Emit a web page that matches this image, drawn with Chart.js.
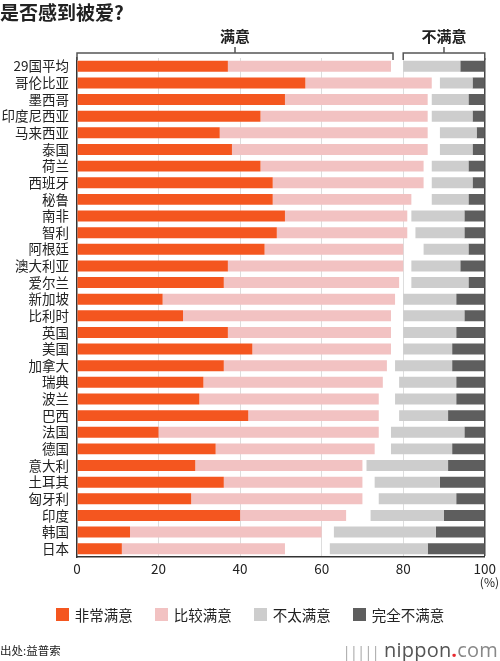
<!DOCTYPE html>
<html>
<head>
<meta charset="utf-8">
<script src="https://cdn.jsdelivr.net/npm/chart.js@4"></script>
<style>
  body { margin: 0; background: #fff; font-family: "Noto Sans CJK SC", sans-serif; }
  #wrap { position: relative; width: 500px; height: 661px; }
  #chart-box { position: absolute; left: 0; top: 0; width: 500px; height: 661px; }
  .title { position: absolute; left: 0; top: 0; font-size: 19px; font-weight: bold; color: #222; line-height: 24px; }
  .legend { position: absolute; top: 604px; left: 0; width: 500px; display: flex; justify-content: center; gap: 22px; font-size: 14.5px; color: #222; }
  .legend span.item { display: flex; align-items: center; }
  .legend i { display: inline-block; width: 13px; height: 13px; margin-right: 6px; }
  .source { position: absolute; left: 0; top: 642px; font-size: 11.5px; color: #222; }
  .logo { position: absolute; right: 2px; top: 636px; font-size: 20px; color: #555; font-family: "Open Sans", sans-serif; letter-spacing: 0.2px; }
  .logo b { color: #e8292f; }
  .logo em { font-style: normal; color: #888; }
</style>
</head>
<body>
<div id="wrap">
  <div id="chart-box"><canvas id="js--chart"></canvas></div>
  <div class="title">是否感到被爱?</div>
  <div class="legend">
    <span class="item"><i style="background:#F4561F"></i>非常满意</span>
    <span class="item"><i style="background:#F2C2C2"></i>比较满意</span>
    <span class="item"><i style="background:#CDCDCD"></i>不太满意</span>
    <span class="item"><i style="background:#5E5E5E"></i>完全不满意</span>
  </div>
  <div class="source">出处:益普索</div>
  <div class="logo"><span style="color:#aaa;font-size:15px;letter-spacing:-1px">|||||</span> nippon<b>.</b><em>com</em></div>
</div>
<script>
const countries = [
    "29国平均", "哥伦比亚", "墨西哥", "印度尼西亚", "马来西亚", "泰国", "荷兰", "西班牙",
    "秘鲁", "南非", "智利", "阿根廷", "澳大利亚", "爱尔兰", "新加坡", "比利时",
    "英国", "美国", "加拿大", "瑞典", "波兰", "巴西", "法国", "德国",
    "意大利", "土耳其", "匈牙利", "印度", "韩国", "日本",
];
const verySatisfied   = [37, 56, 51, 45, 35, 38, 45, 48, 48, 51, 49, 46, 37, 36, 21, 26, 37, 43, 36, 31, 30, 42, 20, 34, 29, 36, 28, 40, 13, 11];
const fairlySatisfied = [40, 31, 35, 41, 51, 48, 40, 37, 34, 30, 32, 34, 43, 43, 57, 51, 40, 34, 40, 44, 44, 32, 54, 39, 41, 34, 42, 26, 47, 40];
const notVery         = [14,  8,  9, 10,  9,  8,  9, 10,  9, 13, 12, 11, 12, 14, 13, 15, 13, 12, 14, 14, 15, 12, 18, 15, 20, 16, 19, 18, 25, 24];
const notAtAll        = [ 6,  3,  4,  3,  2,  3,  4,  3,  4,  5,  5,  4,  6,  4,  7,  5,  7,  8,  8,  7,  7,  9,  5,  8,  9, 11,  7, 10, 12, 14];
const xTicks = [0, 20, 40, 60, 80, 100];

// no-answer share, left blank so the unsatisfied part sits against 100
const noAnswer = countries.map((c, i) => 100 - verySatisfied[i] - fairlySatisfied[i] - notVery[i] - notAtAll[i]);

const bracketPlugin = {
    id: "brackets",
    afterDraw(chart) {
        const ctx = chart.ctx;
        const x = chart.scales.x;
        const top = chart.chartArea.top;
        const y = top - 5;
        function bracket(v0, v1, label) {
            const a = x.getPixelForValue(v0);
            const b = x.getPixelForValue(v1);
            const m = (a + b) / 2;
            ctx.save();
            ctx.strokeStyle = "#555";
            ctx.lineWidth = 1.5;
            ctx.beginPath();
            ctx.moveTo(a, top + 2);
            ctx.lineTo(a, y);
            ctx.lineTo(b, y);
            ctx.lineTo(b, top + 2);
            ctx.moveTo(m, y);
            ctx.lineTo(m, y - 6);
            ctx.stroke();
            ctx.fillStyle = "#222";
            ctx.font = "bold 15px 'Noto Sans CJK SC'";
            ctx.textAlign = "center";
            ctx.textBaseline = "middle";
            ctx.fillText(label, m, y - 17);
            ctx.restore();
        }
        bracket(0, 77.5, "满意");
        bracket(80, 100, "不满意");
        ctx.save();
        ctx.fillStyle = "#222";
        ctx.font = "12px 'Noto Sans CJK SC'";
        ctx.textAlign = "right";
        ctx.textBaseline = "middle";
        ctx.fillText("(%)", 499, chart.chartArea.bottom + 25);
        ctx.restore();
    }
};

const data = {
    labels: countries,
    datasets: [
        { label: "非常满意", data: verySatisfied, backgroundColor: "#F4561F" },
        { label: "比较满意", data: fairlySatisfied, backgroundColor: "#F2C2C2" },
        { label: "无回答", data: noAnswer, backgroundColor: "rgba(0,0,0,0)" },
        { label: "不太满意", data: notVery, backgroundColor: "#CDCDCD" },
        { label: "完全不满意", data: notAtAll, backgroundColor: "#5E5E5E" },
    ]
};

const config = {
    type: "bar",
    data: data,
    plugins: [bracketPlugin],
    options: {
        indexAxis: "y",
        responsive: true,
        maintainAspectRatio: false,
        animation: false,
        layout: { padding: { top: 58, right: 11, bottom: 70, left: 0 } },
        datasets: { bar: { categoryPercentage: 1, barPercentage: 0.66, borderWidth: 0 } },
        plugins: { legend: { display: false }, tooltip: { enabled: false } },
        scales: {
            x: {
                stacked: true,
                min: 0,
                max: 100,
                afterBuildTicks: (s) => { s.ticks = xTicks.map(v => ({ value: v })); },
                afterFit: (s) => { s.height = 34; },
                grid: {
                    drawTicks: false,
                    color: (c) => c.tick && c.tick.value === 100 ? "#444" : (c.tick && c.tick.value === 0 ? "rgba(0,0,0,0)" : "#DDDDDD"),
                    lineWidth: (c) => c.tick && c.tick.value === 100 ? 1.5 : 1,
                },
                border: { color: "#333", width: 1.5 },
                ticks: { padding: 4, color: "#222", font: { size: 13.5, family: "'Noto Sans CJK SC'" } },
            },
            y: {
                stacked: true,
                afterFit: (s) => { s.width = 77; },
                grid: { display: false, drawTicks: false },
                border: { color: "#333", width: 1.5 },
                ticks: { autoSkip: false, padding: 8, color: "#222", font: { size: 13.5, family: "'Noto Sans CJK SC'" } },
            },
        },
    },
};

new Chart(document.getElementById("js--chart"), config);
</script>
</body>
</html>
